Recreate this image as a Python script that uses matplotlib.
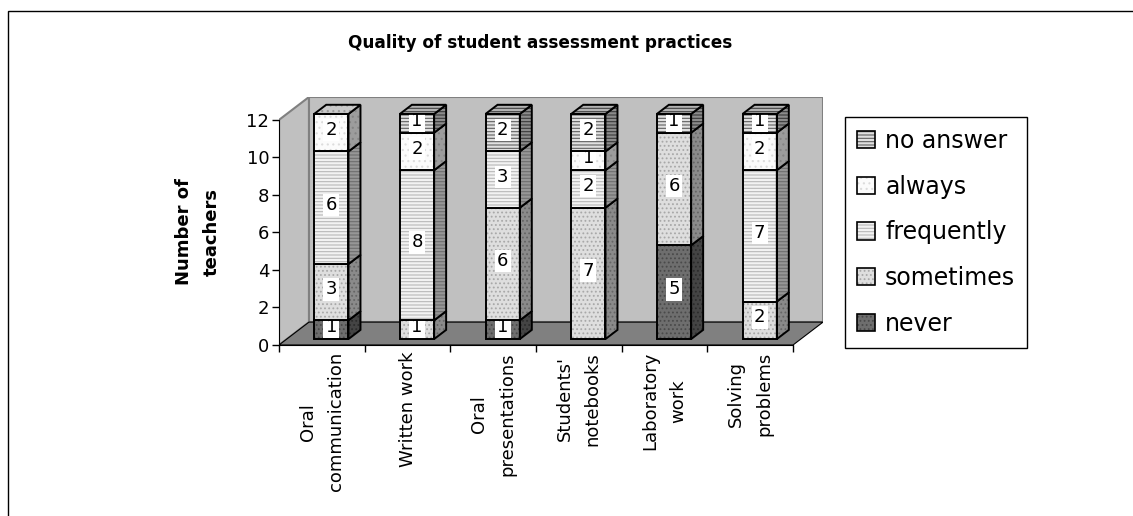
import matplotlib
matplotlib.use("Agg")
import matplotlib.pyplot as plt
from matplotlib.patches import Polygon, Rectangle, Patch

# data
categories = ["Oral\ncommunication", "Written work", "Oral\npresentations",
              "Students'\nnotebooks", "Laboratory\nwork", "Solving\nproblems"]
never = [1, 0, 1, 0, 5, 0]
sometimes = [3, 1, 6, 7, 6, 2]
frequently = [6, 8, 3, 2, 0, 7]
always = [2, 2, 0, 1, 0, 2]
no_answer = [0, 1, 2, 2, 1, 1]

series = [("never", never), ("sometimes", sometimes), ("frequently", frequently),
          ("always", always), ("no answer", no_answer)]

# fill look per series: face, hatch, hatch colour
styles = {
    "never": ("#6e6e6e", "....", "#4a4a4a"),
    "sometimes": ("#dedede", "....", "#a8a8a8"),
    "frequently": ("#f2f2f2", "-----", "#b8b8b8"),
    "always": ("#fbfbfb", "...", "#dcdcdc"),
    "no answer": ("#e0e0e0", "-----", "#606060"),
}

plt.rcParams["hatch.linewidth"] = 0.8
plt.rcParams["font.family"] = "DejaVu Sans"

W, H = 1133, 516
fig = plt.figure(figsize=(W / 100, H / 100), dpi=100)

# 3D depth offsets in data units
DX, DY = 0.35, 1.22
ax = fig.add_axes([279 / W, 1 - 345 / H, (823 - 279) / W, (345 - 97) / H])
ax.set_xlim(0, 6 + DX)
ax.set_ylim(0, 12 + DY)
ax.patch.set_visible(False)


def shade(c, k):
    c = matplotlib.colors.to_rgb(c)
    return tuple(v * k for v in c)


def face(pts, fc, hatch, hc, z):
    ax.add_patch(Polygon(pts, closed=True, facecolor=fc, hatch=hatch,
                         edgecolor=hc, lw=0, zorder=z, clip_on=False))
    ax.add_patch(Polygon(pts, closed=True, fill=False, edgecolor="black",
                         lw=1.4, zorder=z + 0.01, clip_on=False))


# walls and floor
wall = "#c0c0c0"
ax.add_patch(Polygon([(0, 0), (0, 12), (DX, 12 + DY), (DX, DY)], closed=True,
                     facecolor=wall, edgecolor="#808080", lw=1.5, zorder=0.5))
ax.add_patch(Polygon([(DX, DY), (DX, 12 + DY), (6 + DX, 12 + DY), (6 + DX, DY)],
                     closed=True, facecolor=wall, edgecolor="#808080", lw=1.5, zorder=0.5))
ax.add_patch(Polygon([(0, 0), (6, 0), (6 + DX, DY), (DX, DY)], closed=True,
                     facecolor="#808080", edgecolor="black", lw=0.8, zorder=0.6))

# bars
f_front, f_back = 0.26, 0.66
fx, fy = f_front * DX, f_front * DY
bx, by = f_back * DX, f_back * DY
z = 3
for i in range(len(categories)):
    x0, x1 = i + 0.32, i + 0.72
    base = 0
    top_name = None
    for name, vals in series:
        v = vals[i]
        if v == 0:
            continue
        fc, hatch, hc = styles[name]
        y0, y1 = base, base + v
        face([(x0 + fx, y0 + fy), (x1 + fx, y0 + fy), (x1 + fx, y1 + fy), (x0 + fx, y1 + fy)],
             fc, hatch, hc, z)
        face([(x1 + fx, y0 + fy), (x1 + bx, y0 + by), (x1 + bx, y1 + by), (x1 + fx, y1 + fy)],
             shade(fc, 0.62), hatch, shade(hc, 0.6), z)
        ax.text((x0 + x1) / 2 + fx, (y0 + y1) / 2 + fy + 0.15, str(v), ha="center", va="center",
                fontsize=13, zorder=z + 0.5,
                bbox=dict(facecolor="white", edgecolor="none", pad=1.6))
        base = y1
        top_name = name
        z += 1
    fc, hatch, hc = styles[top_name]
    face([(x0 + fx, base + fy), (x1 + fx, base + fy), (x1 + bx, base + by), (x0 + bx, base + by)],
         shade(fc, 0.8), hatch, shade(hc, 0.7), z)
    z += 1

# axes lines and ticks
for s in ["top", "right"]:
    ax.spines[s].set_visible(False)
ax.spines["left"].set_bounds(0, 12)
ax.spines["bottom"].set_bounds(0, 6)
ax.spines["left"].set_zorder(1)
ax.spines["bottom"].set_zorder(1)
ax.set_yticks(range(0, 13, 2))
ax.set_xticks(range(0, 7))
ax.set_xticklabels([])
ax.tick_params(axis="both", direction="out", length=5, width=1, labelsize=13)
ax.tick_params(axis="y", pad=2)

for i, lab in enumerate(categories):
    ax.text(i + 0.5, -0.37, lab, rotation=90, ha="center", va="top",
            multialignment="center", fontsize=13, linespacing=1.7)

fig.text(540 / W, 1 - 43 / H, "Quality of student assessment practices",
         ha="center", va="center", fontsize=12.2, fontweight="bold")
fig.text(198 / W, 1 - 232 / H, "Number of\nteachers", rotation=90,
         ha="center", va="center", fontsize=13, fontweight="bold",
         multialignment="center", linespacing=1.65)

# legend
handles, labels = [], []
for name, _ in reversed(series):
    fc, hatch, hc = styles[name]
    handles.append((Patch(facecolor=fc, hatch=hatch, edgecolor=hc, lw=0),
                    Patch(fill=False, edgecolor="black", lw=1.2)))
    labels.append(name)
leg = fig.legend(handles, labels, loc="upper left",
                 bbox_to_anchor=(845 / W, 1 - 117 / H), borderaxespad=0,
                 fontsize=17, handlelength=0.75, handleheight=0.75,
                 handletextpad=0.45, labelspacing=0.92, borderpad=0.5,
                 fancybox=False, edgecolor="black", framealpha=1)
leg.get_frame().set_linewidth(1)

# outer chart frame
fig.add_artist(Rectangle((8 / W, -0.1), 1.2, 1 - 11 / H + 0.1, transform=fig.transFigure,
                         fill=False, edgecolor="black", lw=1))

fig.savefig("out.png", dpi=100)
